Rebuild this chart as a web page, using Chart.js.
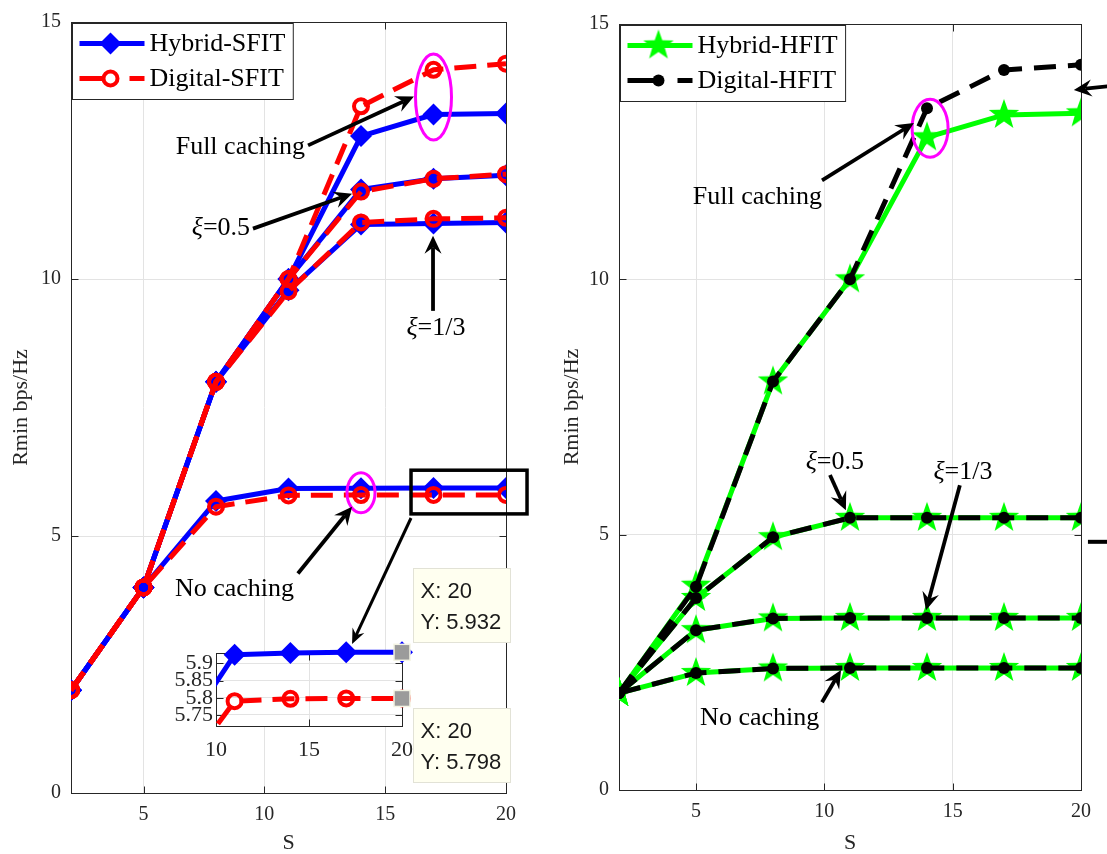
<!DOCTYPE html>
<html>
<head>
<meta charset="utf-8">
<script src="https://cdn.jsdelivr.net/npm/chart.js@4.4.1/dist/chart.umd.min.js"></script>
<style>
body{margin:0;background:#fff;width:1107px;height:854px;overflow:hidden;position:relative}
canvas{position:absolute;top:0}
#leftChart{left:0}
#insetChart{left:0}
#rightChart{left:560px}
</style>
</head>
<body>
<canvas id="leftChart" width="560" height="854"></canvas>
<canvas id="insetChart" width="560" height="854"></canvas>
<canvas id="rightChart" width="547" height="854"></canvas>
<script>
const SERIF = '"Liberation Serif", "Times New Roman", serif'
const SANS = '"Liberation Sans", Arial, sans-serif'
const AXIS = "#262626"
const GRID = "#e3e3e3"

// x values (S) and ticks
const sValues = [2, 5, 8, 11, 14, 17, 20]
const xTicks = [5, 10, 15, 20]
const yTicks = [0, 5, 10, 15]
const insetXTicks = [10, 15, 20]
const insetYTicks = [5.75, 5.8, 5.85, 5.9]

// left panel: SFIT
const hybridSfitFull = [2, 4, 8, 10, 12.78, 13.2, 13.22]
const digitalSfitFull = [2, 4, 8, 10, 13.36, 14.07, 14.19]
const hybridSfitHalf = [2, 4, 8, 10, 11.74, 11.95, 12.02]
const digitalSfitHalf = [2, 4, 8, 10, 11.7, 11.95, 12.04]
const hybridSfitThird = [2, 4, 8, 9.78, 11.06, 11.08, 11.1]
const digitalSfitThird = [2, 4, 8, 9.76, 11.1, 11.17, 11.19]
const hybridSfitNone = [2, 4, 5.68, 5.925, 5.93, 5.932, 5.932]
const digitalSfitNone = [2, 4, 5.57, 5.79, 5.797, 5.798, 5.798]

// right panel: HFIT
const hybridHfitFull = [1.9, 4.0, 8.0, 10.0, 12.78, 13.22, 13.25]
const digitalHfitFull = [1.9, 3.98, 8.0, 10.0, 13.35, 14.1, 14.2]
const hybridHfitHalf = [1.9, 3.76, 4.95, 5.33, 5.33, 5.33, 5.33]
const digitalHfitHalf = [1.9, 3.76, 4.95, 5.33, 5.33, 5.33, 5.33]
const hybridHfitThird = [1.9, 3.13, 3.36, 3.37, 3.37, 3.37, 3.37]
const digitalHfitThird = [1.9, 3.13, 3.36, 3.37, 3.37, 3.37, 3.37]
const hybridHfitNone = [1.9, 2.29, 2.38, 2.39, 2.39, 2.39, 2.39]
const digitalHfitNone = [1.9, 2.29, 2.38, 2.39, 2.39, 2.39, 2.39]

function makeStar(outer, inner, color){
  let c = document.createElement("canvas")
  let s = Math.ceil(outer*2) + 2
  c.width = s
  c.height = s
  let g = c.getContext("2d")
  g.translate(s/2, s/2)
  g.beginPath()
  for(let i=0;i<10;i++){
    let r = i%2 === 0 ? outer : inner
    let a = -Math.PI/2 + i*Math.PI/5
    g.lineTo(r*Math.cos(a), r*Math.sin(a))
  }
  g.closePath()
  g.fillStyle = color
  g.fill()
  return c
}

const starImg = makeStar(16, 6.5, "#00ff00")

const hybridS = {borderColor:"#0000ff", borderWidth:5, borderJoinStyle:"round", pointStyle:"rectRot", pointRadius:11, pointBackgroundColor:"#0000ff", pointBorderWidth:0, order:2}
const digitalS = {borderColor:"#ff0000", borderWidth:5, borderJoinStyle:"round", borderDash:[22,11], pointStyle:"circle", pointRadius:7, pointBackgroundColor:"rgba(0,0,0,0)", pointBorderColor:"#ff0000", pointBorderWidth:4, order:1}
const hybridH = {borderColor:"#00ff00", borderWidth:5, borderJoinStyle:"round", pointStyle:starImg, pointRadius:15, order:2}
const digitalH = {borderColor:"#000000", borderWidth:5, borderJoinStyle:"round", borderDash:[22,12], pointStyle:"circle", pointRadius:6, pointBackgroundColor:"#000000", pointBorderWidth:0, order:1}

function pts(values){
  return values.map((v,i) => ({x:sValues[i], y:v}))
}

function series(label, values, style, extra){
  return Object.assign({label:label, data:pts(values), fill:false, tension:0}, style, extra || {})
}

function baseOptions(W, H, area, xRange, yRange, xt, yt, titled, tickPad, tickSize){
  return {
    responsive:false,
    animation:false,
    events:[],
    layout:{padding:{left:0, top:area.top, right:W-area.right, bottom:0}},
    plugins:{legend:{display:false}, tooltip:{enabled:false}},
    scales:{
      x:{
        type:"linear", min:xRange[0], max:xRange[1],
        afterFit:function(s){ s.height = H - area.bottom },
        afterBuildTicks:function(s){ s.ticks = xt.map(v => ({value:v})) },
        grid:{color:GRID, drawTicks:false},
        border:{display:false},
        ticks:{autoSkip:false, maxRotation:0, color:AXIS, font:{family:SERIF, size:tickSize}, padding:tickPad[0], callback:v => String(v)},
        title:{display:!!titled, text:"S", color:AXIS, font:{family:SERIF, size:22, lineHeight:1}, padding:{top:0, bottom:0}}
      },
      y:{
        type:"linear", min:yRange[0], max:yRange[1],
        afterFit:function(s){ s.width = area.left },
        afterBuildTicks:function(s){ s.ticks = yt.map(v => ({value:v})) },
        grid:{color:GRID, drawTicks:false},
        border:{display:false},
        ticks:{autoSkip:false, color:AXIS, font:{family:SERIF, size:tickSize}, padding:tickPad[1], callback:v => String(v)},
        title:{display:!!titled, text:"Rmin bps/Hz", color:AXIS, font:{family:SERIF, size:22, lineHeight:1}, padding:{top:titled || 0, bottom:0}}
      }
    }
  }
}

// box + inward ticks like the original figure
function framePlugin(xt, yt, white){
  return {
    id:"frame",
    beforeDraw:function(chart){
      if(!white) return
      let a = chart.chartArea
      chart.ctx.save()
      chart.ctx.fillStyle = "#ffffff"
      chart.ctx.fillRect(a.left, a.top, a.right-a.left, a.bottom-a.top)
      chart.ctx.restore()
    },
    beforeDatasetsDraw:function(chart){
      let ctx = chart.ctx
      let a = chart.chartArea
      let xs = chart.scales.x
      let ys = chart.scales.y
      let L = Math.round(a.left)+0.5, R = Math.round(a.right)+0.5
      let T = Math.round(a.top)+0.5, B = Math.round(a.bottom)+0.5
      ctx.save()
      ctx.strokeStyle = AXIS
      ctx.lineWidth = 1
      ctx.strokeRect(L, T, R-L, B-T)
      ctx.beginPath()
      xt.forEach(v => {
        let x = Math.round(xs.getPixelForValue(v))+0.5
        ctx.moveTo(x, B); ctx.lineTo(x, B-7)
        ctx.moveTo(x, T); ctx.lineTo(x, T+7)
      })
      yt.forEach(v => {
        let y = Math.round(ys.getPixelForValue(v))+0.5
        ctx.moveTo(L, y); ctx.lineTo(L+7, y)
        ctx.moveTo(R, y); ctx.lineTo(R-7, y)
      })
      ctx.stroke()
      ctx.restore()
    }
  }
}

function drawArrow(ctx, x1, y1, x2, y2, w, L, Wd){
  let dx = x2-x1, dy = y2-y1
  let len = Math.hypot(dx, dy)
  let ux = dx/len, uy = dy/len, nx = -uy, ny = ux
  let bx = x2-ux*L, by = y2-uy*L
  let mx = x2-ux*L*0.65, my = y2-uy*L*0.65
  ctx.lineWidth = w
  ctx.beginPath()
  ctx.moveTo(x1, y1)
  ctx.lineTo(mx, my)
  ctx.stroke()
  ctx.beginPath()
  ctx.moveTo(x2, y2)
  ctx.lineTo(bx+nx*Wd/2, by+ny*Wd/2)
  ctx.lineTo(mx, my)
  ctx.lineTo(bx-nx*Wd/2, by-ny*Wd/2)
  ctx.closePath()
  ctx.fill()
}

function drawParts(ctx, parts, x, y, align){
  let widths = parts.map(p => {
    ctx.font = (p.italic ? "italic " : "") + "26px " + SERIF
    return ctx.measureText(p.t).width
  })
  let total = widths.reduce((s,w) => s+w, 0)
  let cx = align === "right" ? x-total : align === "center" ? x-total/2 : x
  ctx.textAlign = "left"
  ctx.textBaseline = "middle"
  parts.forEach((p,i) => {
    ctx.font = (p.italic ? "italic " : "") + "26px " + SERIF
    ctx.fillText(p.t, cx, y)
    cx += widths[i]
  })
}

function notesPlugin(items){
  return {
    id:"notes",
    afterDraw:function(chart){
      let ctx = chart.ctx
      let px = v => chart.scales.x.getPixelForValue(v)
      let py = v => chart.scales.y.getPixelForValue(v)
      ctx.save()
      items.forEach(n => {
        ctx.setLineDash([])
        ctx.strokeStyle = n.color || "#000000"
        ctx.fillStyle = n.color || "#000000"
        if(n.type === "text"){
          drawParts(ctx, n.parts, px(n.x), py(n.y), n.align)
        }else if(n.type === "arrow"){
          drawArrow(ctx, px(n.x1), py(n.y1), px(n.x2), py(n.y2), n.width || 3.8, n.head || 18, n.headW || 17)
        }else if(n.type === "ellipse"){
          ctx.lineWidth = 3
          ctx.beginPath()
          ctx.ellipse(px(n.x), py(n.y), n.rx, n.ry, 0, 0, Math.PI*2)
          ctx.stroke()
        }else if(n.type === "rect"){
          ctx.lineWidth = 3.5
          ctx.strokeRect(px(n.x1), py(n.y1), px(n.x2)-px(n.x1), py(n.y2)-py(n.y1))
        }else if(n.type === "line"){
          ctx.lineWidth = n.width || 4
          ctx.beginPath()
          ctx.moveTo(px(n.x1), py(n.y1))
          ctx.lineTo(px(n.x2), py(n.y2))
          ctx.stroke()
        }
      })
      ctx.restore()
    }
  }
}

function drawMarker(ctx, style, x, y){
  ctx.setLineDash([])
  if(style.pointStyle === "rectRot"){
    let r = style.pointRadius
    ctx.fillStyle = style.pointBackgroundColor
    ctx.beginPath()
    ctx.moveTo(x, y-r); ctx.lineTo(x+r, y); ctx.lineTo(x, y+r); ctx.lineTo(x-r, y)
    ctx.closePath()
    ctx.fill()
  }else if(style.pointStyle === "circle"){
    ctx.beginPath()
    ctx.arc(x, y, style.pointRadius, 0, Math.PI*2)
    if(style.pointBorderWidth > 0){
      ctx.fillStyle = "#ffffff"
      ctx.fill()
      ctx.lineWidth = style.pointBorderWidth
      ctx.strokeStyle = style.pointBorderColor
      ctx.stroke()
    }else{
      ctx.fillStyle = style.pointBackgroundColor
      ctx.fill()
    }
  }else{
    let img = style.pointStyle
    ctx.drawImage(img, x-img.width/2, y-img.height/2)
  }
}

function legendPlugin(entries){
  return {
    id:"boxLegend",
    afterDraw:function(chart){
      let ctx = chart.ctx
      let a = chart.chartArea
      ctx.save()
      ctx.font = "26px " + SERIF
      let tw = Math.max.apply(null, entries.map(e => ctx.measureText(e.label).width))
      let left = Math.round(a.left)+1.5, top = Math.round(a.top)+1.5
      let w = 77 + tw + 8, h = 76
      ctx.fillStyle = "#ffffff"
      ctx.fillRect(left, top, w, h)
      ctx.strokeStyle = AXIS
      ctx.lineWidth = 1
      ctx.strokeRect(left, top, w, h)
      entries.forEach((e,i) => {
        let cy = top + 20 + i*35
        ctx.strokeStyle = e.style.borderColor
        ctx.lineWidth = 5
        ctx.setLineDash(e.dash || [])
        ctx.beginPath()
        ctx.moveTo(left+7, cy)
        ctx.lineTo(left+72, cy)
        ctx.stroke()
        drawMarker(ctx, e.style, left+38, cy)
        ctx.fillStyle = "#000000"
        ctx.font = "26px " + SERIF
        ctx.textAlign = "left"
        ctx.textBaseline = "middle"
        ctx.fillText(e.label, left+77, cy+1)
      })
      ctx.restore()
    }
  }
}

function tipsPlugin(tips){
  return {
    id:"tips",
    afterDraw:function(chart){
      let ctx = chart.ctx
      ctx.save()
      tips.forEach(t => {
        let x = chart.scales.x.getPixelForValue(t.x)
        let y = chart.scales.y.getPixelForValue(t.y)
        ctx.fillStyle = "#9b9b9b"
        ctx.strokeStyle = "#f4f4e4"
        ctx.lineWidth = 1.5
        ctx.fillRect(x-8, y-8, 16, 16)
        ctx.strokeRect(x-8, y-8, 16, 16)
        let left = Math.round(x+11)+0.5
        let top = Math.round(t.above ? y-84 : y+10)+0.5
        ctx.fillStyle = "#fffff0"
        ctx.fillRect(left, top, 97, 74)
        ctx.strokeStyle = "#e2e2d6"
        ctx.lineWidth = 1
        ctx.strokeRect(left, top, 97, 74)
        ctx.fillStyle = "#1a1a1a"
        ctx.font = "22px " + SANS
        ctx.textAlign = "left"
        ctx.textBaseline = "middle"
        ctx.fillText("X: " + t.x, left+7, top+23)
        ctx.fillText("Y: " + t.y, left+7, top+54)
      })
      ctx.restore()
    }
  }
}

// ---------- left chart ----------
const leftArea = {left:71, top:17, right:506, bottom:793}
const leftNotes = [
  {type:"ellipse", x:17, y:13.54, rx:18, ry:43, color:"#ff00ff"},
  {type:"text", parts:[{t:"Full caching"}], x:11.68, y:12.57, align:"right"},
  {type:"arrow", x1:11.81, y1:12.6, x2:16.19, y2:13.55},
  {type:"text", parts:[{t:"ξ", italic:true}, {t:"=0.5"}], x:9.41, y:10.98, align:"right"},
  {type:"arrow", x1:9.53, y1:10.98, x2:13.63, y2:11.66},
  {type:"text", parts:[{t:"ξ", italic:true}, {t:"=1/3"}], x:17.1, y:9.05, align:"center"},
  {type:"arrow", x1:16.98, y1:9.38, x2:16.98, y2:10.84},
  {type:"ellipse", x:14, y:5.84, rx:14, ry:20, color:"#ff00ff"},
  {type:"text", parts:[{t:"No caching"}], x:6.3, y:3.96, align:"left"},
  {type:"arrow", x1:11.39, y1:4.27, x2:13.63, y2:5.57},
  {type:"rect", x1:16.07, y1:6.28, x2:20.87, y2:5.43},
  {type:"arrow", x1:16.07, y1:5.35, x2:13.63, y2:2.9, width:3, head:15, headW:13}
]

new Chart(document.getElementById("leftChart"), {
  type:"line",
  data:{datasets:[
    series("Hybrid-SFIT", hybridSfitFull, hybridS),
    series("Hybrid-SFIT", hybridSfitHalf, hybridS),
    series("Hybrid-SFIT", hybridSfitThird, hybridS),
    series("Hybrid-SFIT", hybridSfitNone, hybridS),
    series("Digital-SFIT", digitalSfitFull, digitalS),
    series("Digital-SFIT", digitalSfitHalf, digitalS),
    series("Digital-SFIT", digitalSfitThird, digitalS),
    series("Digital-SFIT", digitalSfitNone, digitalS)
  ]},
  options:baseOptions(560, 854, leftArea, [2,20], [0,15], xTicks, yTicks, 10, [10,10], 20),
  plugins:[
    framePlugin(xTicks, yTicks, false),
    notesPlugin(leftNotes),
    legendPlugin([
      {label:"Hybrid-SFIT", style:hybridS},
      {label:"Digital-SFIT", style:digitalS, dash:[36,14]}
    ])
  ]
})

// ---------- inset (zoom of no caching) ----------
const insetArea = {left:216, top:653, right:402, bottom:726}
const insetClip = {left:0, top:16, right:16, bottom:0}

new Chart(document.getElementById("insetChart"), {
  type:"line",
  data:{datasets:[
    series("Hybrid-SFIT", hybridSfitNone, hybridS, {clip:insetClip}),
    series("Digital-SFIT", digitalSfitNone, digitalS, {clip:insetClip})
  ]},
  options:baseOptions(560, 854, insetArea, [10,20], [5.718,5.93], insetXTicks, insetYTicks, 0, [11,3], 22),
  plugins:[
    framePlugin(insetXTicks, insetYTicks, true),
    tipsPlugin([
      {x:sValues[6], y:hybridSfitNone[6], above:true},
      {x:sValues[6], y:digitalSfitNone[6], above:false}
    ])
  ]
})

// ---------- right chart ----------
const rightArea = {left:59, top:24, right:521, bottom:790}
const rightNotes = [
  {type:"ellipse", x:14.12, y:12.96, rx:18, ry:29, color:"#ff00ff"},
  {type:"text", parts:[{t:"Full caching"}], x:9.91, y:11.61, align:"right"},
  {type:"arrow", x1:9.91, y1:11.94, x2:13.49, y2:13.06},
  {type:"text", parts:[{t:"ξ", italic:true}, {t:"=0.5"}], x:10.41, y:6.42, align:"center"},
  {type:"arrow", x1:10.22, y1:6.17, x2:10.84, y2:5.48},
  {type:"text", parts:[{t:"ξ", italic:true}, {t:"=1/3"}], x:15.4, y:6.23, align:"center"},
  {type:"arrow", x1:15.28, y1:5.97, x2:13.96, y2:3.52},
  {type:"text", parts:[{t:"No caching"}], x:5.16, y:1.41, align:"left"},
  {type:"arrow", x1:9.91, y1:1.72, x2:10.65, y2:2.35},
  {type:"arrow", x1:21.05, y1:13.78, x2:19.72, y2:13.71},
  {type:"line", x1:20.27, y1:4.86, x2:21.05, y2:4.86}
]

new Chart(document.getElementById("rightChart"), {
  type:"line",
  data:{datasets:[
    series("Hybrid-HFIT", hybridHfitFull, hybridH),
    series("Hybrid-HFIT", hybridHfitHalf, hybridH),
    series("Hybrid-HFIT", hybridHfitThird, hybridH),
    series("Hybrid-HFIT", hybridHfitNone, hybridH),
    series("Digital-HFIT", digitalHfitFull, digitalH),
    series("Digital-HFIT", digitalHfitHalf, digitalH),
    series("Digital-HFIT", digitalHfitThird, digitalH),
    series("Digital-HFIT", digitalHfitNone, digitalH)
  ]},
  options:baseOptions(547, 854, rightArea, [2,20], [0,15], xTicks, yTicks, 1, [10,10], 20),
  plugins:[
    framePlugin(xTicks, yTicks, false),
    notesPlugin(rightNotes),
    legendPlugin([
      {label:"Hybrid-HFIT", style:hybridH},
      {label:"Digital-HFIT", style:digitalH, dash:[36,14]}
    ])
  ]
})
</script>
</body>
</html>
